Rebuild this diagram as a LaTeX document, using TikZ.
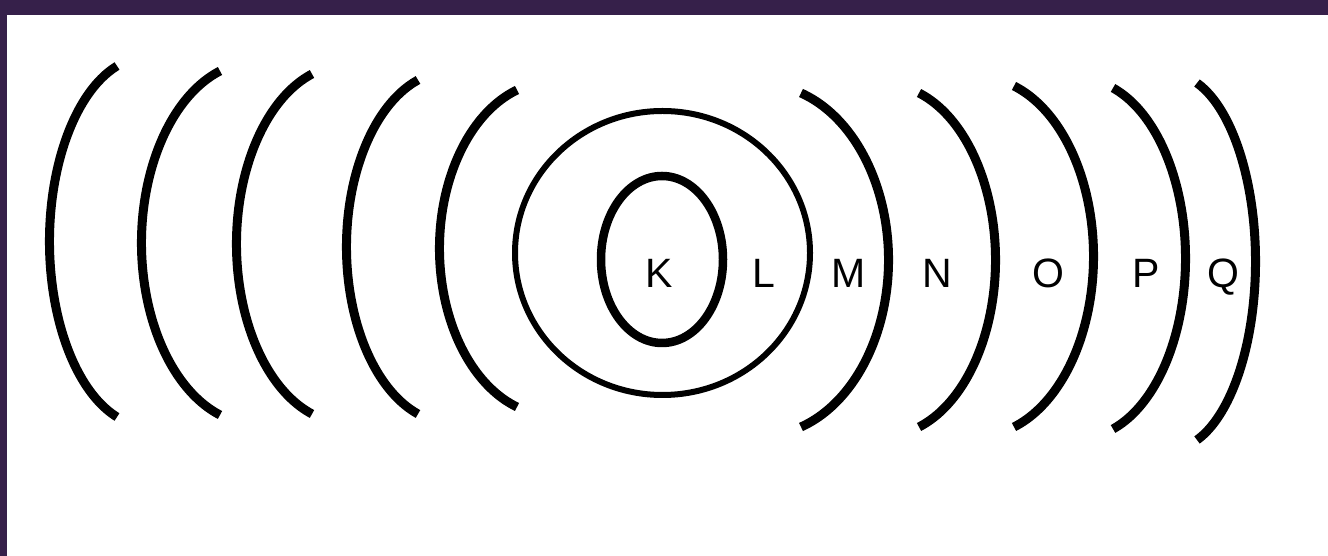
\documentclass[tikz,border=0pt]{standalone}
\usepackage{fontspec}
\setmainfont{Liberation Sans}
\definecolor{frame}{RGB}{54,32,74}
\def\shellphi{72}
% #1 end x, #2 top y (px, down), #3 bottom y (px, down), #4 extreme x
\newcommand\shellLeft[4]{%
  \pgfmathsetmacro\hh{(#3-#2)/2}%
  \pgfmathsetmacro\ss{#1-#4}%
  \pgfmathsetmacro\ax{\ss/(1-cos(\shellphi))}%
  \pgfmathsetmacro\by{\hh/sin(\shellphi)}%
  \draw[shell] (#1,{556-#2}) arc[start angle={180-\shellphi}, end angle={180+\shellphi}, x radius=\ax, y radius=\by];%
}
\newcommand\shellRight[4]{%
  \pgfmathsetmacro\hh{(#3-#2)/2}%
  \pgfmathsetmacro\ss{#4-#1}%
  \pgfmathsetmacro\ax{\ss/(1-cos(\shellphi))}%
  \pgfmathsetmacro\by{\hh/sin(\shellphi)}%
  \draw[shell] (#1,{556-#2}) arc[start angle={\shellphi}, end angle={-\shellphi}, x radius=\ax, y radius=\by];%
}
\begin{document}
\begin{tikzpicture}[x=1pt,y=1pt,
  shell/.style={line width=9pt, black},
  lab/.style={anchor=base, inner sep=0pt, font=\fontsize{41}{41}\selectfont}]
\useasboundingbox (0,0) rectangle (1328,556);
\fill[white] (0,0) rectangle (1328,556);
\fill[frame] (0,541) rectangle (1328,556);
\fill[frame] (0,0) rectangle (7,556);
% left arcs
\shellLeft{117}{66}{417}{49.5}
\shellLeft{220}{71}{415}{141.5}
\shellLeft{312}{74}{414}{236.5}
\shellLeft{418}{80}{414}{346.5}
\shellLeft{517}{90}{407}{439.5}
% right arcs
\shellRight{801}{93}{427}{888.5}
\shellRight{919}{93}{427}{995.5}
\shellRight{1014}{86}{427}{1093.5}
\shellRight{1113}{88}{429}{1185.5}
\shellRight{1197}{83}{440}{1255.5}
% circle and nucleus shell
\draw[line width=6pt] (662.5,{556-253}) ellipse [x radius=147.5, y radius=142];
\draw[line width=8.5pt] (662,{556-259.5}) ellipse [x radius=61, y radius=83.5];
% labels
\node[lab] (K) at (659,268) {K};
\node[lab] (L) at (764,268) {L};
\node[lab] (M) at (849,268) {M};
\node[lab] (N) at (937,268) {N};
\node[lab] (O) at (1048,268) {O};
\node[lab] (P) at (1146,268) {P};
\node[lab] (Q) at (1223,268) {Q};
\end{tikzpicture}
\end{document}
